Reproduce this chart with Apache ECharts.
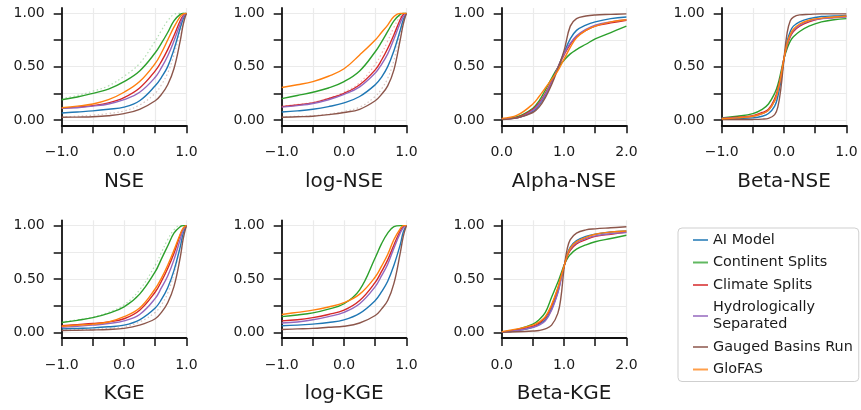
<!DOCTYPE html>
<html>
<head>
<meta charset="utf-8">
<script src="https://cdn.jsdelivr.net/npm/echarts@6/dist/echarts.min.js"></script>
<style>
html,body{margin:0;padding:0;background:#fff;}
#chart{width:861px;height:410px;}
</style>
</head>
<body>
<div id="chart"></div>
<script>
// ---------- data (CDF values) ----------
const seriesNames = ['AI Model', 'Continent Splits', 'Climate Splits', 'Hydrologically\nSeparated', 'Gauged Basins Run', 'GloFAS'];
const seriesColors = ['#1f77b4', '#2ca02c', '#d62728', '#9467bd', '#8c564b', '#ff7f0e'];

// x grids
const skillX = [-1, -0.75, -0.5, -0.25, 0, 0.25, 0.5, 0.6, 0.7, 0.8, 0.9, 0.95, 1];
const alphaX = [0, 0.25, 0.5, 0.6, 0.7, 0.8, 0.9, 1.0, 1.1, 1.2, 1.35, 1.5, 1.75, 2.0];
const betaNseX = [-1, -0.75, -0.5, -0.35, -0.25, -0.15, -0.1, -0.05, 0, 0.05, 0.1, 0.15, 0.25, 0.4, 0.6, 0.8, 1.0];
const betaKgeX = [0, 0.25, 0.5, 0.6, 0.7, 0.8, 0.9, 0.95, 1.0, 1.05, 1.1, 1.2, 1.35, 1.5, 1.75, 2.0];

// NSE
const NSE_AI        = [0.065, 0.075, 0.085, 0.10, 0.12, 0.18, 0.32, 0.40, 0.50, 0.66, 0.86, 0.95, 1.0];
const NSE_Continent = [0.19, 0.215, 0.25, 0.29, 0.36, 0.46, 0.63, 0.72, 0.82, 0.93, 0.99, 1.0, 1.0];
const NSE_Climate   = [0.11, 0.12, 0.135, 0.16, 0.21, 0.30, 0.46, 0.55, 0.66, 0.79, 0.93, 0.98, 1.0];
const NSE_Hydro     = [0.11, 0.115, 0.13, 0.15, 0.19, 0.26, 0.40, 0.49, 0.60, 0.74, 0.90, 0.97, 1.0];
const NSE_Gauged    = [0.025, 0.027, 0.03, 0.04, 0.06, 0.10, 0.18, 0.24, 0.33, 0.48, 0.74, 0.90, 1.0];
const NSE_GloFAS    = [0.115, 0.13, 0.15, 0.19, 0.26, 0.36, 0.53, 0.63, 0.75, 0.87, 0.97, 0.995, 1.0];
const NSE_ContinentRuns = [0.20, 0.23, 0.27, 0.32, 0.41, 0.53, 0.74, 0.84, 0.93, 0.99, 1.0, 1.0, 1.0];
const NSE_GaugedRuns    = [0.03, 0.035, 0.045, 0.06, 0.085, 0.14, 0.25, 0.33, 0.44, 0.61, 0.83, 0.94, 1.0];

// log-NSE
const LNSE_AI        = [0.075, 0.085, 0.10, 0.125, 0.16, 0.22, 0.33, 0.40, 0.50, 0.65, 0.84, 0.94, 1.0];
const LNSE_Continent = [0.20, 0.23, 0.26, 0.30, 0.36, 0.46, 0.64, 0.73, 0.83, 0.93, 0.99, 1.0, 1.0];
const LNSE_Climate   = [0.125, 0.14, 0.16, 0.20, 0.25, 0.33, 0.47, 0.56, 0.67, 0.80, 0.94, 0.99, 1.0];
const LNSE_Hydro     = [0.12, 0.135, 0.155, 0.19, 0.24, 0.31, 0.44, 0.52, 0.62, 0.76, 0.91, 0.97, 1.0];
const LNSE_Gauged    = [0.025, 0.03, 0.035, 0.05, 0.07, 0.10, 0.18, 0.24, 0.32, 0.47, 0.75, 0.90, 1.0];
const LNSE_GloFAS    = [0.305, 0.33, 0.36, 0.41, 0.48, 0.61, 0.75, 0.82, 0.89, 0.97, 1.0, 1.0, 1.0];
const LNSE_ClimateRuns = [0.13, 0.145, 0.165, 0.205, 0.26, 0.35, 0.52, 0.62, 0.74, 0.87, 0.97, 1.0, 1.0];
const LNSE_GaugedRuns  = [0.03, 0.035, 0.04, 0.055, 0.08, 0.12, 0.22, 0.29, 0.39, 0.56, 0.82, 0.94, 1.0];

// Alpha-NSE
const ANSE_AI        = [0.01, 0.02, 0.08, 0.14, 0.23, 0.35, 0.49, 0.63, 0.76, 0.84, 0.89, 0.92, 0.95, 0.965];
const ANSE_Continent = [0.01, 0.03, 0.11, 0.18, 0.28, 0.39, 0.49, 0.56, 0.62, 0.66, 0.71, 0.76, 0.82, 0.88];
const ANSE_Climate   = [0.01, 0.025, 0.10, 0.16, 0.25, 0.36, 0.49, 0.61, 0.71, 0.78, 0.84, 0.88, 0.91, 0.935];
const ANSE_Hydro     = [0.01, 0.02, 0.09, 0.15, 0.24, 0.35, 0.49, 0.62, 0.72, 0.79, 0.85, 0.89, 0.92, 0.94];
const ANSE_Gauged    = [0.005, 0.02, 0.07, 0.12, 0.21, 0.33, 0.48, 0.65, 0.88, 0.95, 0.975, 0.985, 0.99, 0.995];
const ANSE_GloFAS    = [0.015, 0.045, 0.15, 0.22, 0.30, 0.38, 0.46, 0.57, 0.68, 0.77, 0.84, 0.88, 0.92, 0.94];

// Beta-NSE
const BNSE_AI        = [0.01, 0.015, 0.02, 0.035, 0.06, 0.13, 0.22, 0.37, 0.57, 0.74, 0.83, 0.88, 0.92, 0.95, 0.97, 0.975, 0.98];
const BNSE_Continent = [0.02, 0.035, 0.06, 0.10, 0.15, 0.25, 0.33, 0.45, 0.58, 0.67, 0.74, 0.78, 0.83, 0.88, 0.92, 0.94, 0.95];
const BNSE_Climate   = [0.015, 0.025, 0.04, 0.07, 0.10, 0.20, 0.29, 0.42, 0.58, 0.70, 0.78, 0.83, 0.88, 0.92, 0.95, 0.96, 0.97];
const BNSE_Hydro     = [0.015, 0.022, 0.035, 0.06, 0.09, 0.18, 0.27, 0.41, 0.58, 0.71, 0.79, 0.84, 0.89, 0.93, 0.95, 0.96, 0.965];
const BNSE_Gauged    = [0.003, 0.004, 0.005, 0.008, 0.015, 0.05, 0.12, 0.30, 0.58, 0.82, 0.93, 0.965, 0.985, 0.99, 0.995, 0.995, 0.995];
const BNSE_GloFAS    = [0.012, 0.02, 0.035, 0.06, 0.09, 0.18, 0.27, 0.41, 0.58, 0.72, 0.80, 0.85, 0.90, 0.935, 0.955, 0.965, 0.975];

// KGE
const KGE_AI        = [0.035, 0.04, 0.045, 0.055, 0.07, 0.12, 0.23, 0.31, 0.42, 0.58, 0.80, 0.93, 1.0];
const KGE_Continent = [0.095, 0.115, 0.14, 0.18, 0.24, 0.36, 0.57, 0.69, 0.81, 0.93, 0.99, 1.0, 1.0];
const KGE_Climate   = [0.065, 0.075, 0.085, 0.10, 0.13, 0.21, 0.38, 0.48, 0.60, 0.74, 0.91, 0.97, 1.0];
const KGE_Hydro     = [0.05, 0.06, 0.07, 0.085, 0.11, 0.17, 0.32, 0.42, 0.53, 0.68, 0.87, 0.96, 1.0];
const KGE_Gauged    = [0.02, 0.022, 0.025, 0.03, 0.04, 0.07, 0.13, 0.19, 0.28, 0.43, 0.70, 0.88, 1.0];
const KGE_GloFAS    = [0.06, 0.07, 0.08, 0.10, 0.15, 0.23, 0.41, 0.51, 0.63, 0.77, 0.92, 0.98, 1.0];
const KGE_ContinentRuns = [0.10, 0.12, 0.145, 0.19, 0.26, 0.40, 0.63, 0.75, 0.87, 0.96, 1.0, 1.0, 1.0];
const KGE_GaugedRuns    = [0.025, 0.028, 0.032, 0.04, 0.055, 0.10, 0.19, 0.26, 0.37, 0.55, 0.80, 0.92, 1.0];

// log-KGE
const LKGE_AI        = [0.065, 0.07, 0.08, 0.095, 0.12, 0.18, 0.30, 0.38, 0.48, 0.63, 0.82, 0.94, 1.0];
const LKGE_Continent = [0.15, 0.165, 0.185, 0.22, 0.27, 0.40, 0.70, 0.83, 0.93, 0.99, 1.0, 1.0, 1.0];
const LKGE_Climate   = [0.11, 0.12, 0.14, 0.17, 0.21, 0.30, 0.47, 0.57, 0.68, 0.82, 0.95, 0.99, 1.0];
const LKGE_Hydro     = [0.09, 0.10, 0.12, 0.15, 0.19, 0.27, 0.43, 0.53, 0.64, 0.79, 0.93, 0.98, 1.0];
const LKGE_Gauged    = [0.03, 0.035, 0.04, 0.05, 0.06, 0.09, 0.16, 0.22, 0.30, 0.46, 0.74, 0.90, 1.0];
const LKGE_GloFAS    = [0.17, 0.19, 0.21, 0.24, 0.28, 0.36, 0.52, 0.62, 0.73, 0.87, 0.97, 1.0, 1.0];

// Beta-KGE
const BKGE_AI        = [0.005, 0.02, 0.05, 0.08, 0.12, 0.22, 0.38, 0.50, 0.62, 0.73, 0.80, 0.86, 0.90, 0.92, 0.94, 0.95];
const BKGE_Continent = [0.005, 0.03, 0.08, 0.12, 0.19, 0.33, 0.47, 0.55, 0.63, 0.69, 0.73, 0.78, 0.82, 0.85, 0.88, 0.91];
const BKGE_Climate   = [0.005, 0.025, 0.06, 0.09, 0.14, 0.25, 0.41, 0.52, 0.62, 0.71, 0.77, 0.83, 0.87, 0.90, 0.92, 0.94];
const BKGE_Hydro     = [0.005, 0.02, 0.05, 0.07, 0.11, 0.21, 0.37, 0.49, 0.62, 0.72, 0.78, 0.84, 0.88, 0.905, 0.925, 0.935];
const BKGE_Gauged    = [0.005, 0.008, 0.015, 0.02, 0.035, 0.07, 0.18, 0.33, 0.60, 0.78, 0.87, 0.93, 0.96, 0.97, 0.98, 0.99];
const BKGE_GloFAS    = [0.01, 0.035, 0.07, 0.10, 0.15, 0.26, 0.42, 0.52, 0.62, 0.72, 0.79, 0.85, 0.89, 0.92, 0.94, 0.95];

// axis ticks
const skillTicks = [-1, 1];
const ratioTicks = [0, 2];
const yTickValues = [0, 0.25, 0.5, 0.75, 1];
const yLabelValues = [0, 0.5, 1];

// ---------- panels ----------
const panels = [
  { title: 'NSE', x: skillX, range: skillTicks, lines: [NSE_AI, NSE_Continent, NSE_Climate, NSE_Hydro, NSE_Gauged, NSE_GloFAS],
    runs: [[NSE_ContinentRuns, 1], [NSE_GaugedRuns, 4]] },
  { title: 'log-NSE', x: skillX, range: skillTicks, lines: [LNSE_AI, LNSE_Continent, LNSE_Climate, LNSE_Hydro, LNSE_Gauged, LNSE_GloFAS],
    runs: [[LNSE_ClimateRuns, 2], [LNSE_GaugedRuns, 4]] },
  { title: 'Alpha-NSE', x: alphaX, range: ratioTicks, lines: [ANSE_AI, ANSE_Continent, ANSE_Climate, ANSE_Hydro, ANSE_Gauged, ANSE_GloFAS], runs: [] },
  { title: 'Beta-NSE', x: betaNseX, range: skillTicks, lines: [BNSE_AI, BNSE_Continent, BNSE_Climate, BNSE_Hydro, BNSE_Gauged, BNSE_GloFAS], runs: [] },
  { title: 'KGE', x: skillX, range: skillTicks, lines: [KGE_AI, KGE_Continent, KGE_Climate, KGE_Hydro, KGE_Gauged, KGE_GloFAS],
    runs: [[KGE_ContinentRuns, 1], [KGE_GaugedRuns, 4]] },
  { title: 'log-KGE', x: skillX, range: skillTicks, lines: [LKGE_AI, LKGE_Continent, LKGE_Climate, LKGE_Hydro, LKGE_Gauged, LKGE_GloFAS], runs: [] },
  { title: 'Beta-KGE', x: betaKgeX, range: ratioTicks, lines: [BKGE_AI, BKGE_Continent, BKGE_Climate, BKGE_Hydro, BKGE_Gauged, BKGE_GloFAS], runs: [] }
];

const FONT = 'DejaVu Sans';
const TXT = '#1a1a1a';
const grids = [], xAxes = [], yAxes = [], series = [];

function fmtX(v) {
  if (Math.abs(v - Math.round(v)) > 1e-6) return '';
  const s = Math.abs(v).toFixed(1);
  return v < -1e-9 ? '\u2212' + s : s;
}

panels.forEach((p, i) => {
  const col = i % 4, row = Math.floor(i / 4);
  grids.push({
    left: 61.7 + col * 220,
    top: row === 0 ? 8 : 220.3,
    width: 124.7,
    height: row === 0 ? 117.3 : 117.7,
    containLabel: false
  });
  xAxes.push({
    type: 'value', gridIndex: i, min: p.range[0], max: p.range[1], interval: 0.5,
    name: p.title, nameLocation: 'middle', nameGap: 46,
    nameTextStyle: { fontFamily: FONT, fontSize: 20, color: TXT },
    axisLine: { show: true, onZero: false, lineStyle: { color: '#111', width: 1.8 } },
    axisTick: { show: true, inside: false, length: 8, lineStyle: { color: '#111', width: 1.5 } },
    axisLabel: { show: true, margin: 20, fontFamily: FONT, fontSize: 14, color: TXT, formatter: fmtX, showMinLabel: true, showMaxLabel: true },
    splitLine: { show: true, lineStyle: { color: '#ebebeb', width: 1.2 } }
  });
  yAxes.push({
    type: 'value', gridIndex: i, min: -0.05, max: 1.05,
    axisLine: { show: true, onZero: false, lineStyle: { color: '#111', width: 1.8 } },
    axisTick: { show: true, inside: false, length: 8, customValues: yTickValues, lineStyle: { color: '#111', width: 1.5 } },
    axisLabel: { show: true, margin: 17, fontFamily: FONT, fontSize: 14, color: TXT, customValues: yLabelValues,
      formatter: v => v.toFixed(2) },
    splitLine: { show: true, lineStyle: { color: '#ebebeb', width: 1.2 } }
  });
  // faint ensemble-member lines (dotted)
  p.runs.forEach(([arr, k], j) => {
    series.push({
      type: 'line', name: p.title + ' runs ' + j, xAxisIndex: i, yAxisIndex: i,
      data: p.x.map((xv, n) => [xv, arr[n]]),
      showSymbol: false, symbol: 'none', smooth: 0.4, silent: true,
      lineStyle: { color: seriesColors[k], width: 1.2, type: [1.5, 2.5], opacity: 0.35 },
      itemStyle: { color: seriesColors[k] }, z: 1
    });
  });
  p.lines.forEach((arr, k) => {
    series.push({
      type: 'line', name: seriesNames[k], xAxisIndex: i, yAxisIndex: i,
      data: p.x.map((xv, n) => [xv, arr[n]]),
      showSymbol: false, symbol: 'none', smooth: 0.4,
      lineStyle: { color: seriesColors[k], width: 1.4 },
      itemStyle: { color: seriesColors[k] }, z: 2 + k
    });
  });
});

const chart = echarts.init(document.getElementById('chart'), null, { renderer: 'canvas' });
chart.setOption({
  animation: false,
  backgroundColor: '#ffffff',
  textStyle: { fontFamily: FONT },
  grid: grids, xAxis: xAxes, yAxis: yAxes, series: series,
  legend: {
    data: seriesNames, orient: 'vertical', left: 678, top: 228,
    padding: [3.5, 6, 3.5, 15], itemGap: 5.5, itemWidth: 15, itemHeight: 2,
    icon: 'rect', selectedMode: false,
    backgroundColor: '#ffffff', borderColor: '#cfcfcf', borderWidth: 1, borderRadius: 4,
    itemStyle: { opacity: 0.75 },
    textStyle: { fontFamily: FONT, fontSize: 14.4, lineHeight: 17, color: TXT }
  }
});
</script>
</body>
</html>
